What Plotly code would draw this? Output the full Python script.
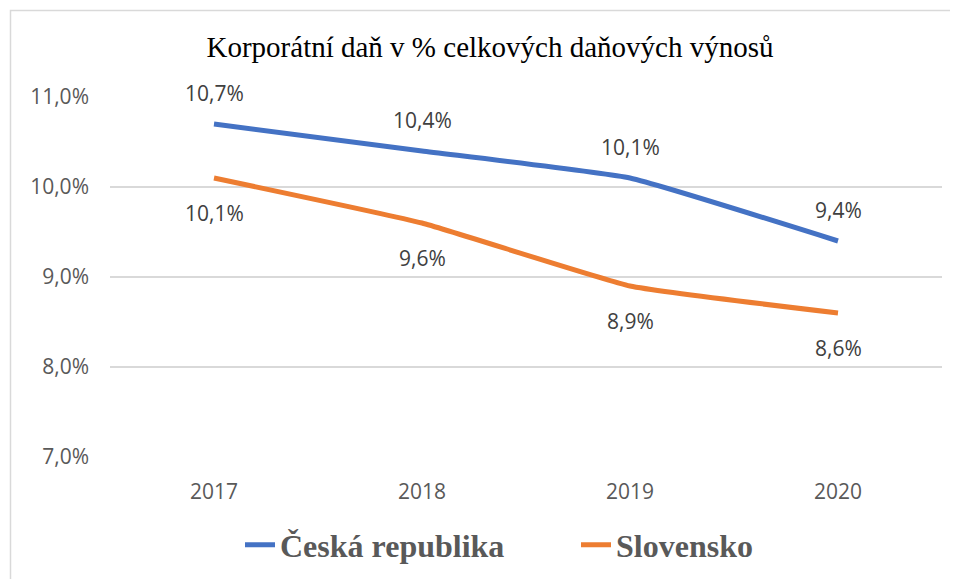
import plotly.graph_objects as go

years = ["2017", "2018", "2019", "2020"]
cz_values = [10.7, 10.4, 10.1, 9.4]
sk_values = [10.1, 9.6, 8.9, 8.6]
cz_labels = ["10,7%", "10,4%", "10,1%", "9,4%"]
sk_labels = ["10,1%", "9,6%", "8,9%", "8,6%"]
y_ticks = [7, 8, 9, 10, 11]
y_tick_labels = ["7,0%", "8,0%", "9,0%", "10,0%", "11,0%"]

title_text = "Korporátní daň v % celkových daňových výnosů"

BLUE = "#4472C4"
ORANGE = "#ED7D31"
GREY = "#595959"
LABEL_FONT = "Open Sans"

# page body has an 8px margin, so the figure is sized/offset to compensate
W, H = 950, 571
L, R, T, B = 102, 16, 89, 122
plot_h = H - T - B

fig = go.Figure()
fig.add_trace(go.Scatter(
    x=years, y=cz_values, mode="lines", name="Česká republika",
    line=dict(color=BLUE, width=5, shape="spline", smoothing=0.35),
))
fig.add_trace(go.Scatter(
    x=years, y=sk_values, mode="lines", name="Slovensko",
    line=dict(color=ORANGE, width=5, shape="spline", smoothing=0.35),
))

for i, (y, t) in enumerate(zip(cz_values, cz_labels)):
    fig.add_annotation(x=i, y=y, text=t, showarrow=False, yshift=31,
                       font=dict(family=LABEL_FONT, size=21, color="#404040"))
for i, (y, t) in enumerate(zip(sk_values, sk_labels)):
    fig.add_annotation(x=i, y=y, text=t, showarrow=False, yshift=-35,
                       font=dict(family=LABEL_FONT, size=21, color="#404040"))

# chart frame border
plot_w = W - L - R
fig.add_shape(type="rect", xref="paper", yref="paper",
              x0=(2.5 - L) / plot_w, x1=1.1,
              y0=-0.5, y1=(H - B - 2.5) / plot_h,
              line=dict(color="#D9D9D9", width=1.5), fillcolor="rgba(0,0,0,0)", layer="below")

fig.update_layout(
    width=W, height=H,
    margin=dict(l=L, r=R, t=T, b=B),
    paper_bgcolor="white", plot_bgcolor="white",
    title=dict(text=title_text, x=482 / W, xref="container", xanchor="center",
               y=1 - 39 / H, yanchor="middle",
               font=dict(family="Liberation Serif", size=29, color="black")),
    showlegend=True,
    legend=dict(orientation="h", x=232 / W, xanchor="left", xref="container",
                y=1 - 537 / H, yanchor="middle", yref="container",
                font=dict(family="Liberation Serif", size=32, color=GREY, weight="bold"),
                entrywidth=291, entrywidthmode="pixels", traceorder="normal"),
    xaxis=dict(type="category", range=[-0.5, 3.5], showgrid=False, showline=False,
               zeroline=False, ticks="", ticklabelstandoff=20,
               tickfont=dict(family=LABEL_FONT, size=21, color=GREY)),
    yaxis=dict(range=[7, 11], tickvals=y_ticks, ticktext=y_tick_labels,
               showgrid=True, gridcolor="#D9D9D9", gridwidth=1.5, zeroline=False,
               showline=False, ticks="", ticklabelstandoff=20,
               tickfont=dict(family=LABEL_FONT, size=21, color=GREY)),
)

fig.write_html("out.html")
